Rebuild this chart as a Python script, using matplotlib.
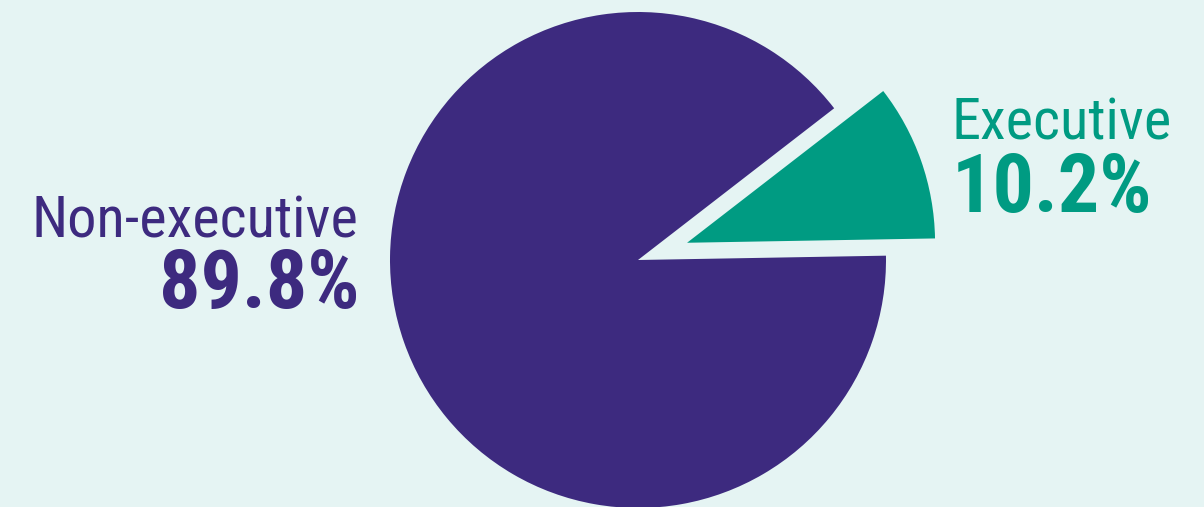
import matplotlib.pyplot as plt

labels = ['Executive', 'Non-executive']
shares = [10.2, 89.8]
colors = ['#009b82', '#3d2a7f']
bg = '#e5f4f3'

narrow = ['Roboto Condensed', 'Archivo Narrow', 'Fira Sans Condensed', 'DejaVu Sans']

fig = plt.figure(figsize=(12.04, 5.07), dpi=100, facecolor=bg)
ax = fig.add_axes([0, 0, 1, 1])
ax.set_facecolor(bg)

# explode is in data units here (axes set up in pixels)
ax.pie(shares, colors=colors, startangle=1, counterclock=True,
       explode=[52, 0], radius=248, center=(638, 247),
       wedgeprops={'linewidth': 0})

ax.set_xlim(0, 1204)
ax.set_ylim(0, 507)
ax.set_aspect('equal')
ax.axis('off')

# labels
ax.text(358, 270, labels[1], ha='right', va='baseline', fontsize=42,
        color=colors[1], family=narrow)
ax.text(360, 199, f'{shares[1]:.1f}%', ha='right', va='baseline', fontsize=59,
        color=colors[1], family=narrow, weight='bold')
ax.text(951, 367, labels[0], ha='left', va='baseline', fontsize=42,
        color=colors[0], family=narrow)
ax.text(952, 295, f'{shares[0]:.1f}%', ha='left', va='baseline', fontsize=59,
        color=colors[0], family=narrow, weight='bold')

plt.savefig('out.png', dpi=100, facecolor=bg)
